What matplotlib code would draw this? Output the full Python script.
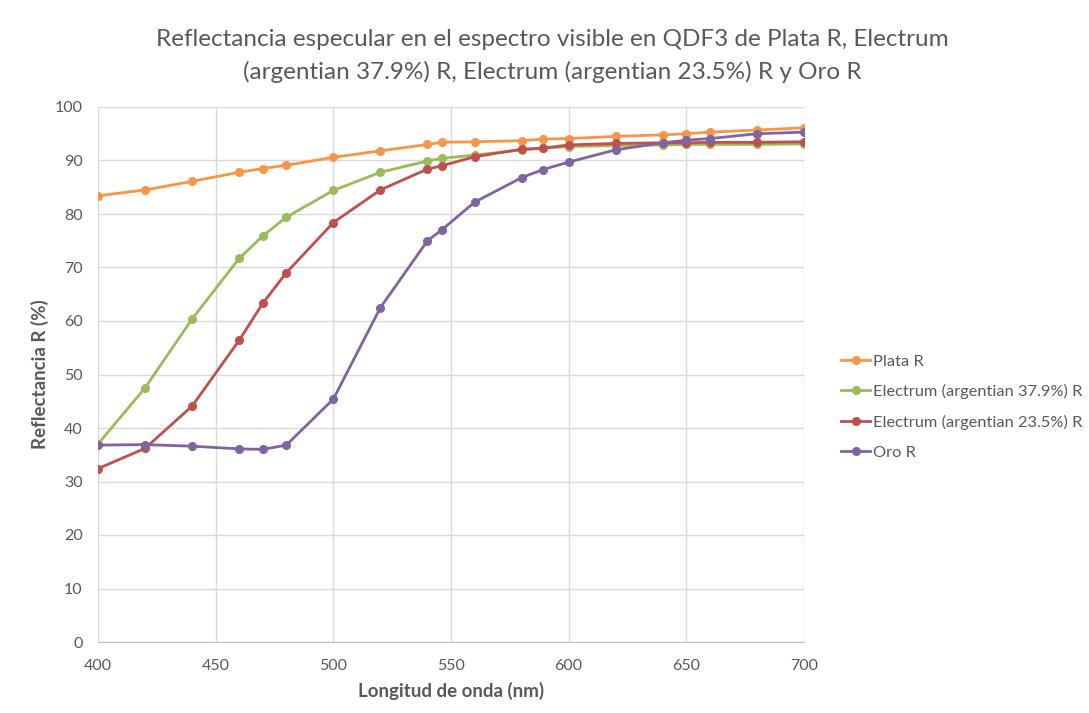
import matplotlib
matplotlib.use("Agg")
import matplotlib.pyplot as plt

wavelength = [400, 420, 440, 460, 470, 480, 500, 520, 540, 546, 560, 580, 589, 600, 620, 640, 650, 660, 680, 700]
plata = [83.4, 84.5, 86.1, 87.8, 88.5, 89.1, 90.6, 91.8, 93.0, 93.4, 93.5, 93.7, 94.0, 94.1, 94.5, 94.8, 95.0, 95.3, 95.7, 96.1]
electrum_379 = [37.0, 47.5, 60.4, 71.7, 75.9, 79.4, 84.4, 87.8, 89.9, 90.4, 91.0, 92.0, 92.3, 92.6, 92.8, 92.9, 93.0, 93.0, 93.0, 93.1]
electrum_235 = [32.4, 36.2, 44.1, 56.4, 63.3, 69.0, 78.4, 84.5, 88.4, 89.0, 90.7, 92.1, 92.3, 92.9, 93.2, 93.3, 93.3, 93.4, 93.4, 93.5]
oro = [36.8, 36.9, 36.6, 36.1, 36.0, 36.8, 45.4, 62.5, 75.0, 77.0, 82.2, 86.8, 88.3, 89.7, 92.0, 93.3, 93.8, 94.1, 95.0, 95.3]

series = [
    ("Plata R", plata, "#F79646"),
    ("Electrum (argentian 37.9%) R", electrum_379, "#9BBB59"),
    ("Electrum (argentian 23.5%) R", electrum_235, "#C0504D"),
    ("Oro R", oro, "#8064A2"),
]

plt.rcParams['font.family'] = ['Lato', 'DejaVu Sans']
fig = plt.figure(figsize=(10.89, 7.13), dpi=100)
ax = fig.add_axes([98/1089, 1-642/713, (804-98)/1089, (642-107)/713])

for name, vals, col in series:
    ax.plot(wavelength, vals, color=col, lw=2, marker='o', ms=5.5, label=name)

ax.set_xlim(400, 700)
ax.set_ylim(0, 100)
ax.set_xticks(range(400, 701, 50))
ax.set_yticks(range(0, 101, 10))
ax.grid(True, color='#d9d9d9', lw=1)
ax.set_axisbelow(True)
for s in ['top', 'right', 'left']:
    ax.spines[s].set_visible(False)
ax.spines['bottom'].set_color('#bfbfbf')
ax.tick_params(axis='y', length=0, labelsize=11.5, colors='#595959', pad=11)
ax.tick_params(axis='x', length=0, labelsize=11.5, colors='#595959', pad=12)
ax.set_xlabel("Longitud de onda (nm)", fontsize=13.5, fontweight='bold', color='#595959', labelpad=7)
ax.set_ylabel("Reflectancia R (%)", fontsize=13.5, fontweight='bold', color='#595959', labelpad=4)

fig.text(552/1089, 1-56/713, "Reflectancia especular en el espectro visible en QDF3 de Plata R, Electrum\n(argentian 37.9%) R, Electrum (argentian 23.5%) R y Oro R",
         ha='center', va='center', fontsize=17.5, color='#595959', linespacing=1.55)

leg = ax.legend(loc='center left', bbox_to_anchor=(826/1089, 1-407/713), bbox_transform=fig.transFigure,
                frameon=False, fontsize=11.8, handlelength=1.8, labelspacing=0.95, handletextpad=0.15)
for t in leg.get_texts():
    t.set_color('#595959')

fig.savefig("out.png", dpi=100)
